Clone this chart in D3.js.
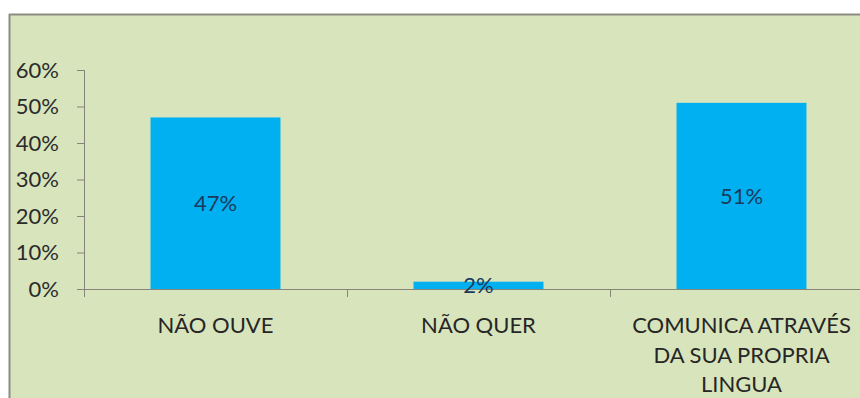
<!DOCTYPE html>
<html>
<head>
<meta charset="utf-8">
<script src="https://cdn.jsdelivr.net/npm/d3@7"></script>
<style>
  html, body { margin: 0; padding: 0; background: #ffffff; }
  svg { display: block; }
  text { font-family: Lato, "Open Sans", sans-serif; }
</style>
</head>
<body>
<svg id="chart" width="860" height="398"></svg>
<script>
// Motivos — share of responses per category
const categories = ["NÃO OUVE", "NÃO QUER", "COMUNICA ATRAVÉS DA SUA PROPRIA LINGUA"];
const categoryLines = [["NÃO OUVE"], ["NÃO QUER"], ["COMUNICA ATRAVÉS", "DA SUA PROPRIA", "LINGUA"]];
const values = [0.47, 0.02, 0.51];
const yTicks = [0, 0.1, 0.2, 0.3, 0.4, 0.5, 0.6];

const W = 860, H = 398;
const svg = d3.select("#chart");

// chart area panel with a grey frame on top and left
const panel = { x: 9, y: 14 };
svg.append("rect")
  .attr("x", panel.x).attr("y", panel.y)
  .attr("width", W - panel.x).attr("height", H - panel.y)
  .attr("fill", "#d8e4bc");
svg.append("line")
  .attr("x1", panel.x).attr("x2", W).attr("y1", panel.y + 0.5).attr("y2", panel.y + 0.5)
  .attr("stroke", "#8c8c82").attr("stroke-width", 2);
svg.append("line")
  .attr("x1", panel.x + 0.5).attr("x2", panel.x + 0.5).attr("y1", panel.y).attr("y2", H)
  .attr("stroke", "#8c8c82").attr("stroke-width", 2);

const plot = { left: 84, right: 873, top: 70, bottom: 289 };

const x = d3.scaleBand()
  .domain(categories)
  .range([plot.left, plot.right])
  .paddingInner(0.506)
  .paddingOuter(0.253);

const y = d3.scaleLinear()
  .domain([0, 0.6])
  .range([plot.bottom, plot.top]);

const axisColor = "#858579";
const fontSize = "22px";

// y axis
const yAxis = svg.append("g")
  .attr("transform", `translate(${plot.left},0)`)
  .call(d3.axisLeft(y).tickValues(yTicks).tickFormat(d3.format(".0%")).tickSize(7).tickPadding(18));
yAxis.select(".domain").attr("stroke", axisColor).attr("d", `M0.5,${plot.top}V${plot.bottom + 8}`);
yAxis.selectAll(".tick line").attr("stroke", axisColor);
yAxis.selectAll(".tick text")
  .attr("fill", "#2b2b2b")
  .style("font-size", fontSize);

// bars
svg.append("g").selectAll("rect")
  .data(values)
  .join("rect")
  .attr("x", (d, i) => x(categories[i]))
  .attr("y", d => y(d))
  .attr("width", x.bandwidth())
  .attr("height", d => y(0) - y(d))
  .attr("fill", "#00b0f0");

// x axis line and category boundary ticks
svg.append("line")
  .attr("x1", plot.left).attr("x2", W)
  .attr("y1", y(0) + 0.5).attr("y2", y(0) + 0.5)
  .attr("stroke", axisColor);
const step = x.step();
const boundaries = categories.map(c => x(c) - x.paddingInner() * step / 2);
svg.append("g").selectAll("line")
  .data(boundaries)
  .join("line")
  .attr("x1", d => Math.round(d) + 0.5).attr("x2", d => Math.round(d) + 0.5)
  .attr("y1", y(0)).attr("y2", y(0) + 8)
  .attr("stroke", axisColor);

// value labels centred in each bar
svg.append("g").selectAll("text")
  .data(values)
  .join("text")
  .attr("x", (d, i) => x(categories[i]) + x.bandwidth() / 2)
  .attr("y", d => (y(d) + y(0)) / 2 + 8)
  .attr("text-anchor", "middle")
  .attr("fill", "#1b3a5c")
  .style("font-size", fontSize)
  .text(d => d3.format(".0%")(d));

// category labels, wrapped onto several lines where long
const catG = svg.append("g");
categoryLines.forEach((lines, i) => {
  const t = catG.append("text")
    .attr("x", x(categories[i]) + x.bandwidth() / 2)
    .attr("y", 333)
    .attr("text-anchor", "middle")
    .attr("fill", "#262626")
    .style("font-size", fontSize);
  lines.forEach((ln, j) => {
    t.append("tspan")
      .attr("x", x(categories[i]) + x.bandwidth() / 2)
      .attr("dy", j === 0 ? 0 : 29.5)
      .text(ln);
  });
});
</script>
</body>
</html>
